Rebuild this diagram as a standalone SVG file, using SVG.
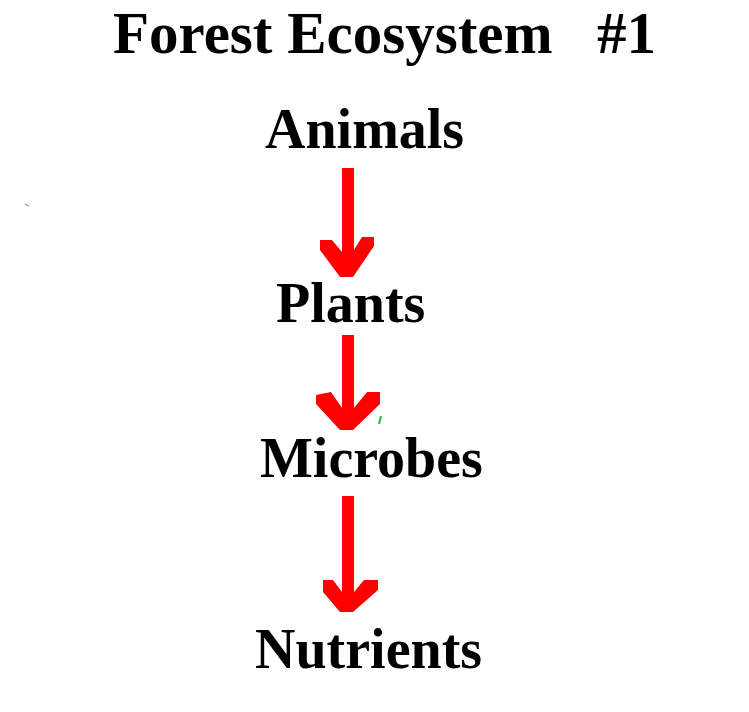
<svg xmlns="http://www.w3.org/2000/svg" width="749" height="712" viewBox="0 0 749 712">
<style>
.t{font-family:"Liberation Serif","Times New Roman",serif;font-weight:bold;fill:#000}
.title{font-size:59px}
.lbl{font-size:56px}
.arr{fill:#ff0000}
</style>
<rect width="749" height="712" fill="#fff"/>
<g id="title">
<text class="t title" x="113" y="53">Forest Ecosystem</text>
<text class="t title" x="597" y="53">#1</text>
</g>
<g id="animals"><text class="t lbl" x="265" y="148">Animals</text></g>
<g id="plants"><text class="t lbl" x="276" y="322">Plants</text></g>
<g id="microbes"><text class="t lbl" x="260" y="477">Microbes</text></g>
<g id="nutrients"><text class="t lbl" x="255" y="668">Nutrients</text></g>
<g id="connectors">
<polygon class="arr" points="342,168 354,168 354,250 362,237 374,237 374,246 353,277 340,277 320,250 320,240 332,240 342,252"/>
<polygon class="arr" points="342,335 354,335 354,408 367,392 380,392 380,404 353,430 340,430 316,404 316,395 331,392 342,408"/>
<polygon class="arr" points="342,496 354,496 354,592 364,580 378,580 378,590 353,612 340,612 323,592 323,580 333,580 342,592"/>
</g>
<line x1="381" y1="416" x2="379" y2="424" stroke="#22bb44" stroke-width="2"/>
<line x1="25" y1="204" x2="29" y2="206" stroke="#339988" stroke-width="1"/>
</svg>
